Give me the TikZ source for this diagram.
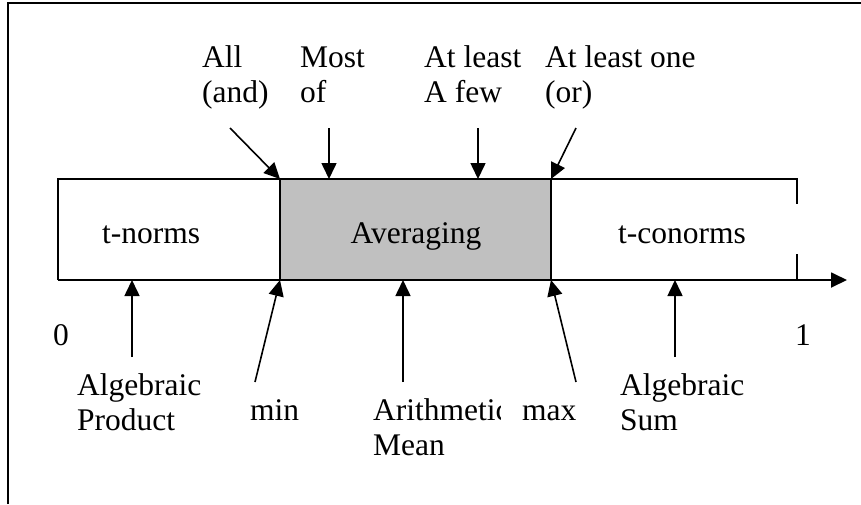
\documentclass[tikz,border=0pt]{standalone}
\usepackage{fontspec}
\setmainfont{Liberation Serif}
\usetikzlibrary{arrows.meta}
\tikzset{
  lbl/.style={anchor=base west, inner sep=0pt, font=\fontsize{31.5}{35}\selectfont},
  arr/.style={line width=1.6pt, -{Triangle[length=16pt,width=15pt]}},
  edge/.style={line width=1.8pt},
}
\begin{document}
\begin{tikzpicture}[x=1pt,y=-1pt]
\useasboundingbox (0,0) rectangle (861,504);
% outer frame (only left and top visible)
\draw[line width=2.2pt] (8,504) -- (8,3) -- (861,3);
% bar coordinates
\coordinate (tl) at (58,179);
\coordinate (bl) at (58,280);
\coordinate (tmin) at (280,179);
\coordinate (bmin) at (280,280);
\coordinate (tmax) at (551,179);
\coordinate (bmax) at (551,280);
\coordinate (tr) at (797,179);
\coordinate (rgap1) at (797,204);
\coordinate (rgap2) at (797,254);
\coordinate (br) at (797,280);
\coordinate (axend) at (847,280);
% grey region
\fill[fill={rgb,255:red,192;green,192;blue,192}] (tmin) rectangle (bmax);
\draw[edge] (bl) -- (tl) -- (tr) -- (rgap1);
\draw[edge] (rgap2) -- (br);
\draw[edge] (tmin) -- (bmin);
\draw[edge] (tmax) -- (bmax);
\draw[line width=1.8pt, -{Triangle[length=16pt,width=15pt]}] (bl) -- (axend);
% bar texts
\node[lbl] (tn) at (102,243) {t-norms};
\node[lbl, anchor=base] (avg) at (416,243) {Averaging};
\node[lbl] (tcn) at (618,243) {t-conorms};
\node[lbl] (zero) at (53,345) {0};
\node[lbl] (one) at (795,345) {1};
% top labels
\node[lbl] (all1) at (202,67) {All};
\node[lbl] (all2) at (202,102) {(and)};
\node[lbl] (most1) at (300,67) {Most};
\node[lbl] (most2) at (300,102) {of};
\node[lbl] (few1) at (424,67) {At least};
\node[lbl] (few2) at (424,102) {A few};
\node[lbl] (one1) at (545,67) {At least one};
\node[lbl] (one2) at (545,102) {(or)};
% bottom labels
\node[lbl] (ap1) at (77,395) {Algebraic};
\node[lbl] (ap2) at (77,430) {Product};
\node[lbl] (min) at (250,420) {min};
\begin{scope}
\clip (360,380) rectangle (500.5,432);
\node[lbl] (am1) at (373,420) {Arithmetic};
\end{scope}
\node[lbl] (am2) at (373,455) {Mean};
\node[lbl] (max) at (522,420) {max};
\node[lbl] (as1) at (620,395) {Algebraic};
\node[lbl] (as2) at (620,430) {Sum};
% arrow start points
\coordinate (sAll) at (230,128);
\coordinate (sMost) at (329,128);
\coordinate (eMost) at (329,179);
\coordinate (sFew) at (478,128);
\coordinate (eFew) at (478,179);
\coordinate (sOne) at (576,128);
\coordinate (sAP) at (132,357);
\coordinate (eAP) at (132,280);
\coordinate (sMin) at (255,382);
\coordinate (sAM) at (403,382);
\coordinate (eAM) at (403,280);
\coordinate (sMax) at (576,382);
\coordinate (sAS) at (675,357);
\coordinate (eAS) at (675,280);
% arrows
\draw[arr] (sAll) -- (tmin);
\draw[arr] (sMost) -- (eMost);
\draw[arr] (sFew) -- (eFew);
\draw[arr] (sOne) -- (tmax);
\draw[arr] (sAP) -- (eAP);
\draw[arr] (sMin) -- (bmin);
\draw[arr] (sAM) -- (eAM);
\draw[arr] (sMax) -- (bmax);
\draw[arr] (sAS) -- (eAS);
\end{tikzpicture}
\end{document}
